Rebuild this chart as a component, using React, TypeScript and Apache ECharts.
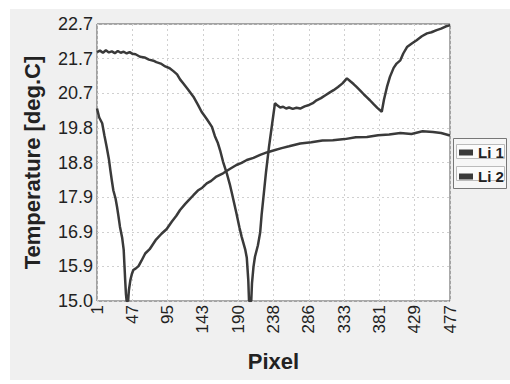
import React, { useEffect, useRef } from "react";
import * as echarts from "echarts";

// Tick labels
const xTickLabels = ["1", "47", "95", "143", "190", "238", "286", "333", "381", "429", "477"];
const yTickLabels = ["15.0", "15.9", "16.9", "17.9", "18.8", "19.8", "20.7", "21.7", "22.7"];

const X_MIN = 1;
const X_MAX = 477;
const Y_MIN = 15.0;
const Y_MAX = 22.7;

// Li 1: pixel positions and temperatures
const li1Pixels = [
  1, 5, 9, 13, 17, 21, 25, 29, 33, 37, 41, 45, 49, 53, 59, 65, 71, 77, 81, 87, 93, 99, 104, 109, 113, 118, 124, 131,
  137, 142, 149, 156, 160, 164, 167, 171, 176, 180, 183, 189, 193, 196, 201, 203, 205, 206, 209, 210, 212, 214, 218,
  221, 223, 225, 229, 233, 237, 241, 244, 248, 252, 256, 260, 265, 270, 275, 281, 287, 292, 297, 303, 309, 315, 320,
  326, 332, 338, 343, 347, 351, 356, 361, 365, 369, 374, 379, 385, 388, 392, 396, 401, 405, 410, 414, 419, 425, 432,
  439, 446, 452, 459, 465, 471, 477,
];
const li1Temps = [
  21.92, 21.96, 21.9, 21.97, 21.91, 21.94, 21.89, 21.95, 21.9, 21.93, 21.88, 21.92, 21.87, 21.86, 21.79, 21.77, 21.71,
  21.68, 21.64, 21.6, 21.52, 21.47, 21.39, 21.3, 21.16, 21.03, 20.87, 20.68, 20.46, 20.26, 20.06, 19.84, 19.58, 19.39,
  19.19, 18.87, 18.55, 18.25, 17.99, 17.44, 17.05, 16.79, 16.42, 16.2, 15.58, 15.0, 15.0, 15.5, 15.95, 16.23, 16.55,
  16.9, 17.4, 17.8, 18.6, 19.3, 19.9, 20.5, 20.44, 20.38, 20.4, 20.35, 20.38, 20.34, 20.37, 20.35, 20.41, 20.45, 20.5,
  20.58, 20.64, 20.72, 20.8, 20.86, 20.95, 21.05, 21.19, 21.1, 21.03, 20.95, 20.85, 20.74, 20.66, 20.58, 20.47, 20.37,
  20.26, 20.6, 20.95, 21.23, 21.48, 21.6, 21.69, 21.88, 22.06, 22.15, 22.25, 22.36, 22.44, 22.47, 22.53, 22.57, 22.63,
  22.67,
];

// Li 2: pixel positions and temperatures
const li2Pixels = [
  1, 4, 8, 11, 14, 17, 19, 21, 23, 26, 28, 30, 32, 35, 37, 38, 39, 40, 41, 43, 44, 46, 48, 50, 53, 57, 61, 66, 72, 80,
  88, 95, 102, 108, 113, 120, 126, 131, 137, 143, 149, 155, 162, 171, 180, 189, 196, 203, 212, 221, 230, 240, 250, 260,
  275, 290, 305, 319, 335, 350, 365, 380, 395, 410, 425, 440, 454, 465, 477,
];
const li2Temps = [
  20.35, 20.1, 19.94, 19.6, 19.29, 18.95, 18.64, 18.35, 18.08, 17.85, 17.62, 17.35, 17.06, 16.75, 16.42, 16.0, 15.58,
  15.2, 15.0, 15.0, 15.3, 15.58, 15.75, 15.86, 15.9, 15.97, 16.12, 16.32, 16.44, 16.69, 16.87, 17.0, 17.21, 17.37, 17.53,
  17.7, 17.83, 17.94, 18.07, 18.15, 18.27, 18.34, 18.46, 18.55, 18.67, 18.78, 18.84, 18.92, 18.98, 19.06, 19.13, 19.19,
  19.25, 19.3, 19.38, 19.41, 19.46, 19.47, 19.5, 19.55, 19.56, 19.61, 19.63, 19.67, 19.64, 19.72, 19.7, 19.67, 19.6,
];

const X_INTERVAL = (X_MAX - X_MIN) / (xTickLabels.length - 1);
const Y_INTERVAL = (Y_MAX - Y_MIN) / (yTickLabels.length - 1);

function toSeries(px: number[], t: number[]) {
  return px.map((p, i) => [p - X_MIN, t[i] - Y_MIN]);
}

const FONT = "'Liberation Sans', Arial, sans-serif";
const LINE_COLOR = "#3a3a3a";

export default function App() {
  const ref = useRef<HTMLDivElement>(null);
  useEffect(() => {
    if (!ref.current) return;
    const chart = echarts.init(ref.current, undefined, { renderer: "svg" });
    chart.setOption({
      animation: false,
      backgroundColor: "#ffffff",
      textStyle: { fontFamily: FONT },
      graphic: [
        { type: "rect", z: -10, silent: true, shape: { x: 10, y: 9, width: 500, height: 371 }, style: { fill: "#f0f0f0" } },
        { type: "rect", z: 5, silent: true, shape: { x: 453.5, y: 138.5, width: 53, height: 50 }, style: { fill: "#f6f6f6", stroke: "#777", lineWidth: 1 } },
        { type: "rect", z: 6, silent: true, shape: { x: 456.5, y: 144.5, width: 48, height: 14 }, style: { fill: "#fbfbfb", stroke: "#bbb", lineWidth: 1 } },
        { type: "rect", z: 6, silent: true, shape: { x: 456.5, y: 166.5, width: 48, height: 14 }, style: { fill: "#fbfbfb", stroke: "#bbb", lineWidth: 1 } },
      ],
      grid: {
        left: 97,
        top: 24,
        width: 353,
        height: 277,
        show: true,
        backgroundColor: "#ffffff",
        borderColor: "#555",
        borderWidth: 1,
        containLabel: false,
      },
      legend: {
        orient: "vertical",
        left: 459,
        top: 145,
        z: 10,
        padding: 0,
        itemGap: 9,
        itemWidth: 14,
        itemHeight: 6,
        icon: "rect",
        selectedMode: false,
        textStyle: { fontFamily: FONT, fontSize: 15, fontWeight: "bold", color: "#222", lineHeight: 13 },
        data: ["Li 1", "Li 2"],
      },
      xAxis: {
        type: "value",
        min: 0,
        max: X_MAX - X_MIN,
        interval: X_INTERVAL,
        name: "Pixel",
        nameLocation: "middle",
        nameGap: 49,
        nameTextStyle: { fontFamily: FONT, fontSize: 22, fontWeight: "bold", color: "#222" },
        axisLine: { show: false },
        axisTick: { show: false },
        axisLabel: {
          rotate: 90,
          margin: 4,
          fontFamily: FONT,
          fontSize: 17,
          color: "#222",
          formatter: (v: number) => xTickLabels[Math.round(v / X_INTERVAL)] ?? "",
        },
        splitLine: { show: true, lineStyle: { color: "#d0d0d0", type: [2, 3], width: 1 } },
      },
      yAxis: {
        type: "value",
        min: 0,
        max: Y_MAX - Y_MIN,
        interval: Y_INTERVAL,
        name: "Temperature [deg.C]",
        nameLocation: "middle",
        nameGap: 54,
        nameTextStyle: { fontFamily: FONT, fontSize: 22, fontWeight: "bold", color: "#222" },
        axisLine: { show: false },
        axisTick: { show: false },
        axisLabel: {
          margin: 4,
          fontFamily: FONT,
          fontSize: 18,
          color: "#222",
          formatter: (v: number) => yTickLabels[Math.round(v / Y_INTERVAL)] ?? "",
        },
        splitLine: { show: true, lineStyle: { color: "#d0d0d0", type: [2, 3], width: 1 } },
      },
      series: [
        {
          name: "Li 1",
          type: "line",
          data: toSeries(li1Pixels, li1Temps),
          showSymbol: false,
          symbol: "none",
          color: LINE_COLOR,
          lineStyle: { color: LINE_COLOR, width: 2.5 },
          itemStyle: { color: LINE_COLOR },
        },
        {
          name: "Li 2",
          type: "line",
          data: toSeries(li2Pixels, li2Temps),
          showSymbol: false,
          symbol: "none",
          color: LINE_COLOR,
          lineStyle: { color: LINE_COLOR, width: 2.5 },
          itemStyle: { color: LINE_COLOR },
        },
      ],
    });
    return () => chart.dispose();
  }, []);
  return <div ref={ref} style={{ position: "absolute", left: 0, top: 0, width: 510, height: 384 }} />;
}
